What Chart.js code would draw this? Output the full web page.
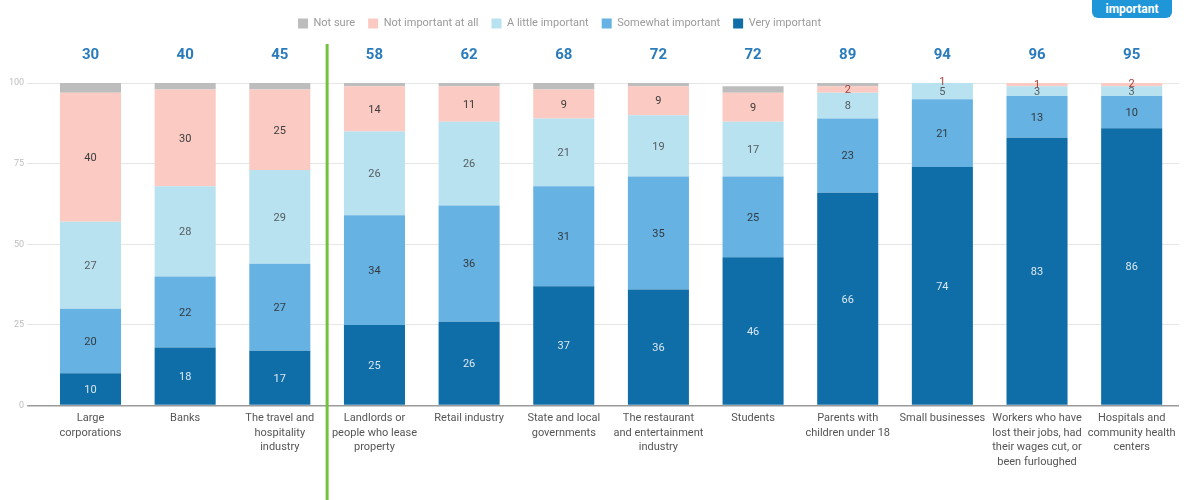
<!DOCTYPE html>
<html>
<head>
<meta charset="utf-8">
<script src="https://cdn.jsdelivr.net/npm/chart.js@4"></script>
<style>
  body { margin: 0; background: #fff; }
  #wrap { position: relative; width: 1184px; height: 500px; }
  #badge {
    position: absolute; left: 1092px; top: -8px; width: 80px; height: 26px;
    background: #1e96d8; border-radius: 6px; color: #fff;
    font: bold 12px Roboto, sans-serif; text-align: center; line-height: 34px;
  }
</style>
</head>
<body>
<div id="wrap">
  <canvas id="importanceChart" width="1184" height="500"></canvas>
  <div id="badge">important</div>
</div>
<script>
const categories = [
  ['Large', 'corporations'],
  'Banks',
  ['The travel and', 'hospitality', 'industry'],
  ['Landlords or', 'people who lease', 'property'],
  'Retail industry',
  ['State and local', 'governments'],
  ['The restaurant', 'and entertainment', 'industry'],
  'Students',
  ['Parents with', 'children under 18'],
  'Small businesses',
  ['Workers who have', 'lost their jobs, had', 'their wages cut, or', 'been furloughed'],
  ['Hospitals and', 'community health', 'centers']
];

const veryImportant     = [10, 18, 17, 25, 26, 37, 36, 46, 66, 74, 83, 86];
const somewhatImportant = [20, 22, 27, 34, 36, 31, 35, 25, 23, 21, 13, 10];
const littleImportant   = [27, 28, 29, 26, 26, 21, 19, 17,  8,  5,  3,  3];
const notImportant      = [40, 30, 25, 14, 11,  9,  9,  9,  2,  1,  1,  2];
const notSure           = [ 3,  2,  2,  1,  1,  2,  1,  2,  1,  0,  1,  0];

// very + somewhat important, shown above each bar
const importantTotals   = [30, 40, 45, 58, 62, 68, 72, 72, 89, 94, 96, 95];

const yTicks = [0, 25, 50, 75, 100];

const FONT = 'Roboto, sans-serif';

// room under the legend for the totals row, and the legend row sits a bit left of centre
const legendSpace = {
  id: 'legendSpace',
  beforeInit(chart) {
    const legend = chart.legend;
    const fit = legend.fit;
    legend.fit = function () {
      fit.bind(legend)();
      this.height += 44;
    };
  },
  afterLayout(chart) {
    chart.legend.left -= 33;
    chart.legend.right -= 33;
  }
};

const segmentLabels = {
  id: 'segmentLabels',
  afterDatasetsDraw(chart) {
    const ctx = chart.ctx;
    ctx.save();
    ctx.font = '11px ' + FONT;
    ctx.textAlign = 'center';
    ctx.textBaseline = 'middle';
    chart.data.datasets.forEach((ds, i) => {
      if (!ds.labelColor) return;
      chart.getDatasetMeta(i).data.forEach((bar, j) => {
        const v = ds.data[j];
        if (!v) return;
        ctx.fillStyle = (ds.smallColor && v <= 2) ? ds.smallColor : ds.labelColor;
        ctx.fillText(v, bar.x, (bar.y + bar.base) / 2 + 1);
      });
    });
    ctx.restore();
  }
};

const totalsAndDivider = {
  id: 'totalsAndDivider',
  afterDraw(chart) {
    const ctx = chart.ctx;
    const x = chart.scales.x;
    const top = chart.chartArea.top;
    ctx.save();
    ctx.font = 'bold 15px ' + FONT;
    ctx.fillStyle = '#2a7bbc';
    ctx.textAlign = 'center';
    ctx.textBaseline = 'middle';
    importantTotals.forEach((t, i) => {
      ctx.fillText(t, x.getPixelForValue(i), top - 28);
    });
    // divider between the third and fourth groups
    const dx = (x.getPixelForValue(2) + x.getPixelForValue(3)) / 2;
    ctx.strokeStyle = '#72c23a';
    ctx.lineWidth = 3;
    ctx.beginPath();
    ctx.moveTo(dx, top - 39);
    ctx.lineTo(dx, chart.height);
    ctx.stroke();
    ctx.restore();
  }
};

const ctx = document.getElementById('importanceChart').getContext('2d');

new Chart(ctx, {
  type: 'bar',
  data: {
    labels: categories,
    datasets: [
      { label: 'Very important', data: veryImportant, backgroundColor: '#0f6ea8', labelColor: '#dde7f0' },
      { label: 'Somewhat important', data: somewhatImportant, backgroundColor: '#66b2e2', labelColor: '#333a40' },
      { label: 'A little important', data: littleImportant, backgroundColor: '#b9e2f0', labelColor: '#555c60' },
      { label: 'Not important at all', data: notImportant, backgroundColor: '#facac3', labelColor: '#3c3c3c', smallColor: '#a8433a' },
      { label: 'Not sure', data: notSure, backgroundColor: '#bdbdbd' }
    ]
  },
  options: {
    responsive: false,
    animation: false,
    layout: { padding: { top: 5, left: 6, right: 5, bottom: 25 } },
    datasets: {
      bar: { barPercentage: 0.86, categoryPercentage: 0.75 }
    },
    plugins: {
      legend: {
        position: 'top',
        reverse: true,
        labels: {
          boxWidth: 10,
          boxHeight: 10,
          padding: 13,
          color: '#9a9a9a',
          font: { family: FONT, size: 11 }
        }
      },
      tooltip: { enabled: false }
    },
    scales: {
      x: {
        stacked: true,
        grid: { display: false, drawTicks: false },
        border: { display: false },
        ticks: {
          color: '#555',
          autoSkip: false,
          maxRotation: 0,
          padding: 5,
          font: { family: FONT, size: 11, lineHeight: 1.35 }
        }
      },
      y: {
        stacked: true,
        min: 0,
        max: 100,
        afterBuildTicks(axis) {
          axis.ticks = yTicks.map(v => ({ value: v }));
        },
        border: { display: false },
        grid: {
          color: c => c.tick && c.tick.value === 0 ? '#9a9a9a' : '#e6e6e6',
          lineWidth: c => c.tick && c.tick.value === 0 ? 1.5 : 1,
          tickLength: 16
        },
        ticks: {
          color: '#bdbdbd',
          padding: 3,
          font: { family: FONT, size: 9 }
        }
      }
    }
  },
  plugins: [legendSpace, segmentLabels, totalsAndDivider]
});
</script>
</body>
</html>
